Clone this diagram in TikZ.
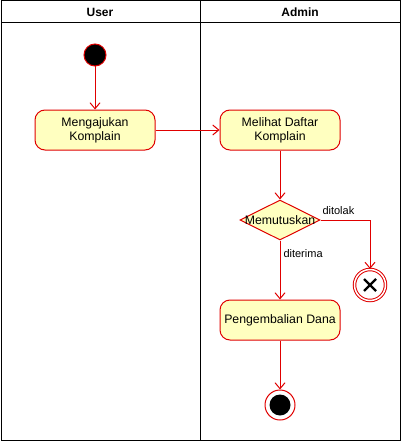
\documentclass[tikz,border=0pt]{standalone}
\usepackage{fontspec}
\setmainfont{Liberation Sans}
\usetikzlibrary{shapes.geometric,arrows.meta}
\definecolor{umlfill}{HTML}{FFFFC0}
\definecolor{umlline}{HTML}{E00000}
\tikzset{
% Swimlane frame and the UML activity shapes
lane head/.style={font=\fontsize{12}{14}\selectfont\bfseries},
action node/.style={rectangle,rounded corners=10pt,draw=umlline,fill=umlfill,
    minimum width=120pt,minimum height=40pt,align=center,
    font=\fontsize{12.3}{14}\selectfont},
decision node/.style={diamond,draw=umlline,fill=umlfill,aspect=2,inner sep=0,
    minimum width=80pt,minimum height=40pt},
start node/.style={circle,draw=umlline,fill=black,minimum size=22pt,inner sep=0},
final node/.style={circle,draw=umlline,fill=white,minimum size=30pt,inner sep=0,
    path picture={\fill[black] (path picture bounding box.center) circle (10.5pt);}},
flow end node/.style={circle,draw=umlline,fill=white,minimum size=31pt,inner sep=0,
    double=white,double distance=1.5pt,
    path picture={\draw[black,line width=2.4pt]
        ([shift={(-6pt,-6pt)}]path picture bounding box.center) -- ([shift={(6pt,6pt)}]path picture bounding box.center)
        ([shift={(-6pt,6pt)}]path picture bounding box.center) -- ([shift={(6pt,-6pt)}]path picture bounding box.center);}},
flow/.style={draw=umlline,-{Straight Barb[length=6pt,width=10pt]}},
edge label/.style={font=\fontsize{11}{13}\selectfont,inner sep=1pt}
}
\begin{document}
\begin{tikzpicture}[x=1pt,y=-1pt,line width=1pt]
\useasboundingbox (0,0) rectangle (401,441);
% swimlanes
\draw (1,1) rectangle (400,440);
\draw (1,23) -- (400,23);
\draw (200,1) -- (200,440);
\node[lane head] (userlane) at (100,12) {User};
\node[lane head] (adminlane) at (300,12) {Admin};
% activity nodes
\node[start node] (start) at (95,55) {};
\node[action node] (ajukan) at (95,130) {Mengajukan\\Komplain};
\node[action node] (lihat) at (280,130) {Melihat Daftar\\Komplain};
\node[decision node, label={[font=\fontsize{12.3}{14}\selectfont]center:Memutuskan}] (putus) at (280,220) {};
\node[flow end node] (tolak) at (370,285) {};
\node[action node] (kembali) at (280,320) {Pengembalian Dana};
\node[final node] (selesai) at (280,405) {};
\coordinate (belok) at (370,220);
% flows
\draw[flow] (start) -- (ajukan);
\draw[flow] (ajukan) -- (lihat);
\draw[flow] (lihat) -- (putus);
\draw[flow] (putus.east) -- (belok) -- (tolak);
\draw[flow] (putus) -- (kembali);
\draw[flow] (kembali) -- (selesai);
\node[edge label,anchor=west] (ditolak) at (321,211) {ditolak};
\node[edge label,anchor=west] (diterima) at (282,254) {diterima};
\end{tikzpicture}
\end{document}
